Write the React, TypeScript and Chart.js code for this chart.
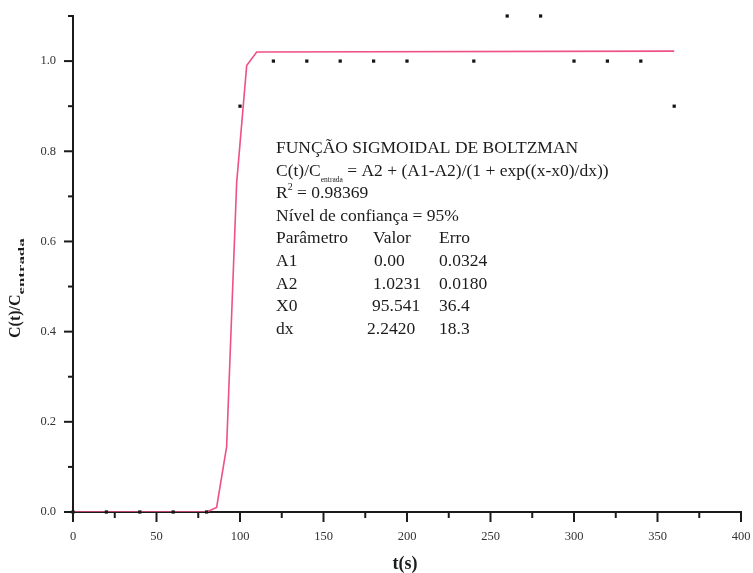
import React, { useEffect, useRef } from 'react';
import { Chart, registerables } from 'chart.js';

Chart.register(...registerables);

// Measured breakthrough data: time (s) vs C(t)/C_entrada
const sampleTimes = [0, 20, 40, 60, 80, 100, 120, 140, 160, 180, 200, 240, 260, 280, 300, 320, 340, 360];
const concentrationRatio = [0, 0, 0, 0, 0, 0.9, 1, 1, 1, 1, 1, 1, 1.1, 1.1, 1, 1, 1, 0.9];

// Boltzmann sigmoid fit curve vertices
const fitTimes = [0, 80, 86, 92, 98, 104, 110, 360];
const fitValues = [0, 0, 0.01, 0.145, 0.73, 0.99, 1.02, 1.022];

// Axis ticks
const xMajorTicks = [0, 50, 100, 150, 200, 250, 300, 350, 400];
const yMajorTicks = ['0.0', '0.2', '0.4', '0.6', '0.8', '1.0'];

// Fit report
const fitTitle = 'FUNÇÃO SIGMOIDAL DE BOLTZMAN';
const fitR2 = '0.98369';
const fitConfidence = 'Nível de confiança = 95%';
const tableHeader = ['Parâmetro', 'Valor', 'Erro'];
const paramNames = ['A1', 'A2', 'X0', 'dx'];
const paramValues = ['0.00', '1.0231', '95.541', '2.2420'];
const paramErrors = ['0.0324', '0.0180', '36.4', '18.3'];

const SERIF = '"Liberation Serif", "Times New Roman", serif';
const INK = '#1b1b1b';

type Run = { text: string; size: number; bold?: boolean; dy?: number; sx?: number };

function drawRuns(ctx: CanvasRenderingContext2D, x: number, y: number, runs: Run[]) {
  let cx = x;
  for (const r of runs) {
    ctx.font = `${r.bold ? 'bold ' : ''}${r.size}px ${SERIF}`;
    const sx = r.sx ?? 1;
    ctx.save();
    ctx.translate(cx, y + (r.dy ?? 0));
    ctx.scale(sx, 1);
    ctx.fillText(r.text, 0, 0);
    ctx.restore();
    cx += ctx.measureText(r.text).width * sx;
  }
  return cx;
}

const decorations = {
  id: 'decorations',
  afterDraw(chart: any) {
    const ctx: CanvasRenderingContext2D = chart.ctx;
    const xs = chart.scales.x;
    const ys = chart.scales.y;
    const area = chart.chartArea;
    ctx.save();
    ctx.strokeStyle = INK;
    ctx.lineWidth = 2;

    // tick marks: long for labelled values, short in between
    xs.ticks.forEach((t: any) => {
      const px = xs.getPixelForValue(t.value);
      const major = xMajorTicks.includes(Math.round(t.value));
      ctx.beginPath();
      ctx.moveTo(px, area.bottom);
      ctx.lineTo(px, area.bottom + (major ? 10 : 6));
      ctx.stroke();
    });
    ys.ticks.forEach((t: any) => {
      const py = ys.getPixelForValue(t.value);
      const major = yMajorTicks.includes(t.value.toFixed(1));
      ctx.beginPath();
      ctx.moveTo(area.left, py);
      ctx.lineTo(area.left - (major ? 9 : 5), py);
      ctx.stroke();
    });

    ctx.fillStyle = INK;
    ctx.textBaseline = 'alphabetic';

    // x axis title
    ctx.font = `bold 18px ${SERIF}`;
    ctx.textAlign = 'center';
    ctx.fillText('t(s)', (area.left + area.right) / 2 - 2, area.bottom + 57);

    // y axis title, rotated
    ctx.textAlign = 'left';
    ctx.save();
    ctx.translate(area.left - 53, area.bottom - 174);
    ctx.rotate(-Math.PI / 2);
    drawRuns(ctx, 0, 0, [
      { text: 'C(t)/C', size: 16, bold: true },
      { text: 'entrada', size: 8, bold: true, dy: 4, sx: 2.1 },
    ]);
    ctx.restore();

    // fit report
    const lx = area.left + 203;
    const ly = area.top + 137;
    const lh = 22.6;
    const fs = 17.5;
    ctx.fillStyle = INK;
    drawRuns(ctx, lx, ly, [{ text: fitTitle, size: fs }]);
    drawRuns(ctx, lx, ly + lh, [
      { text: 'C(t)/C', size: fs },
      { text: 'entrada', size: 7.5, dy: 6 },
      { text: ' = A2 + (A1-A2)/(1 + exp((x-x0)/dx))', size: fs },
    ]);
    drawRuns(ctx, lx, ly + 2 * lh, [
      { text: 'R', size: fs },
      { text: '2', size: 10, dy: -8 },
      { text: ' = ' + fitR2, size: fs },
    ]);
    drawRuns(ctx, lx, ly + 3 * lh, [{ text: fitConfidence, size: fs }]);
    ctx.font = `${fs}px ${SERIF}`;
    ctx.fillText(tableHeader[0], lx, ly + 4 * lh);
    ctx.fillText(tableHeader[1], lx + 97, ly + 4 * lh);
    ctx.fillText(tableHeader[2], lx + 163, ly + 4 * lh);
    const valueOffsets = [98, 97, 96, 91];
    paramNames.forEach((name, i) => {
      const y = ly + (5 + i) * lh;
      ctx.fillText(name, lx, y);
      ctx.fillText(paramValues[i], lx + valueOffsets[i], y);
      ctx.fillText(paramErrors[i], lx + 163, y);
    });
    ctx.restore();
  },
};

export default function App() {
  const canvasRef = useRef<HTMLCanvasElement | null>(null);

  useEffect(() => {
    const canvas = canvasRef.current;
    if (!canvas) return;
    const chart = new Chart(canvas, {
      type: 'scatter',
      data: {
        datasets: [
          {
            type: 'line',
            label: 'Ajuste Boltzmann',
            data: fitTimes.map((t, i) => ({ x: t, y: fitValues[i] })),
            borderColor: '#ee5088',
            borderWidth: 1.6,
            pointRadius: 0,
            fill: false,
            tension: 0,
            order: 2,
          },
          {
            label: 'C(t)/C entrada',
            data: sampleTimes.map((t, i) => ({ x: t, y: concentrationRatio[i] })),
            backgroundColor: '#151515',
            borderColor: '#151515',
            borderWidth: 0,
            pointStyle: 'rect',
            pointRadius: 2.3,
            clip: false,
            order: 1,
          } as any,
        ],
      },
      options: {
        responsive: false,
        animation: false,
        layout: { padding: { left: 0, top: 16, right: 12, bottom: 0 } },
        plugins: {
          legend: { display: false },
          tooltip: { enabled: false },
          title: { display: false },
        },
        scales: {
          x: {
            type: 'linear',
            min: 0,
            max: 400,
            afterFit: (s: any) => {
              s.height = 61;
              s.paddingLeft = 0;
              s.paddingRight = 0;
            },
            border: { display: true, color: INK, width: 2 },
            grid: { drawOnChartArea: false, drawTicks: true, tickLength: 10, color: 'rgba(0,0,0,0)' },
            ticks: {
              stepSize: 25,
              autoSkip: false,
              maxRotation: 0,
              padding: 7,
              color: '#333333',
              font: { family: SERIF, size: 12.5 },
              callback: (v: any) => (xMajorTicks.includes(Math.round(Number(v))) ? String(Math.round(Number(v))) : ''),
            },
          },
          y: {
            type: 'linear',
            min: 0,
            max: 1.1,
            afterFit: (s: any) => {
              s.width = 73;
              s.paddingTop = 0;
              s.paddingBottom = 0;
            },
            border: { display: true, color: INK, width: 2 },
            grid: { drawOnChartArea: false, drawTicks: true, tickLength: 9, color: 'rgba(0,0,0,0)' },
            ticks: {
              stepSize: 0.1,
              autoSkip: false,
              padding: 8,
              color: '#333333',
              font: { family: SERIF, size: 12.5 },
              callback: (v: any) => {
                const label = Number(v).toFixed(1);
                return yMajorTicks.includes(label) ? label : '';
              },
            },
          },
        },
      },
      plugins: [decorations],
    });
    return () => chart.destroy();
  }, []);

  return (
    <div style={{ position: 'fixed', left: 0, top: 0, width: 753, height: 573, background: '#fff' }}>
      <canvas ref={canvasRef} width={753} height={573} style={{ display: 'block' }} />
    </div>
  );
}
